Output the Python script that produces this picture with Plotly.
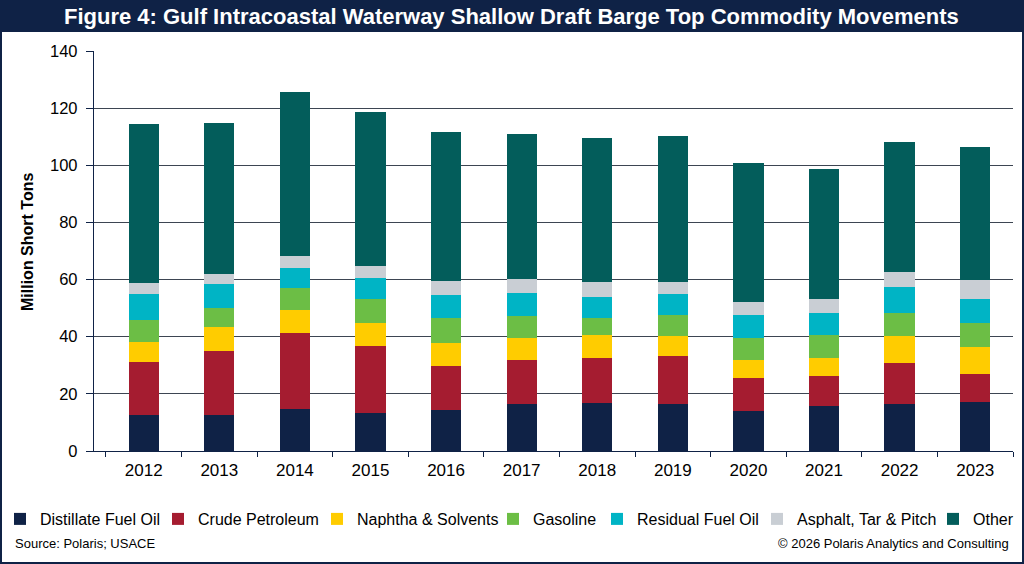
import plotly.graph_objects as go

years = ["2012", "2013", "2014", "2015", "2016", "2017", "2018", "2019", "2020", "2021", "2022", "2023"]
distillate = [12.5, 12.5, 14.7, 13.3, 14.3, 16.3, 16.8, 16.5, 14.0, 15.6, 16.6, 17.2]
crude = [18.7, 22.4, 26.5, 23.3, 15.5, 15.5, 15.8, 16.6, 11.4, 10.5, 14.3, 9.7]
naphtha = [7.0, 8.4, 8.3, 8.2, 8.0, 7.6, 8.0, 7.3, 6.5, 6.6, 9.3, 9.5]
gasoline = [7.6, 6.9, 7.6, 8.3, 8.6, 7.9, 5.9, 7.2, 7.6, 8.0, 8.2, 8.5]
residual = [9.1, 8.2, 7.1, 7.6, 8.3, 8.0, 7.3, 7.4, 8.1, 7.7, 9.1, 8.2]
asphalt = [3.9, 3.5, 4.1, 4.1, 4.7, 4.8, 5.4, 4.2, 4.6, 4.7, 5.2, 6.9]
other = [55.5, 52.8, 57.3, 53.7, 52.1, 50.8, 50.5, 51.0, 48.7, 45.5, 45.5, 46.3]

series_names = ["Distillate Fuel Oil", "Crude Petroleum", "Naphtha & Solvents", "Gasoline",
                "Residual Fuel Oil", "Asphalt, Tar & Pitch", "Other"]
series_values = [distillate, crude, naphtha, gasoline, residual, asphalt, other]
colors = ["#0f2246", "#a51c30", "#ffcc00", "#6cbe45", "#00b4c5", "#c9ced4", "#035d5b"]
y_ticks = [0, 20, 40, 60, 80, 100, 120, 140]

NAVY = "#0f2246"
FONT = "Arial, Liberation Sans, sans-serif"

W, H = 1024, 564
ML, MR, MT, MB = 94, 11, 51, 113
PW, PH = W - ML - MR, H - MT - MB


def cx(px):
    return px / W


def cy(py):
    return 1 - py / H


# legend box left positions (px) for each legend entry
legend_box_x = [0, 158, 317, 493, 597, 757, 933]

fig = go.Figure()
for i, (name, vals, col) in enumerate(zip(series_names, series_values, colors)):
    lg = "legend" if i == 0 else f"legend{i + 1}"
    fig.add_trace(go.Bar(
        x=years, y=vals, name=name, marker=dict(color=col, line=dict(width=0)),
        legend=lg,
    ))

layout_legends = {}
for i, bx in enumerate(legend_box_x):
    key = "legend" if i == 0 else f"legend{i + 1}"
    layout_legends[key] = dict(
        xref="container", yref="container",
        x=cx(bx), xanchor="left", y=cy(519), yanchor="middle",
        orientation="h", bgcolor="rgba(0,0,0,0)", borderwidth=0,
        font=dict(family=FONT, size=16, color="#000000"),
    )

fig.update_layout(
    width=W, height=H, autosize=False,
    margin=dict(l=ML, r=MR, t=MT, b=MB, pad=0, autoexpand=False),
    paper_bgcolor="white", plot_bgcolor="white",
    barmode="stack", bargap=0.6,
    font=dict(family=FONT, color="#000000"),
    showlegend=True,
    **layout_legends,
)

fig.update_xaxes(
    type="category", tickson="boundaries", ticks="outside", ticklen=5,
    tickwidth=1.3, tickcolor=NAVY, showline=True, linecolor=NAVY, linewidth=1.3,
    showgrid=False, tickfont=dict(family=FONT, size=17, color="#000000"),
    ticklabelstandoff=3,
)
fig.update_layout(
    yaxis=dict(
        range=[0, 140], tickvals=y_ticks, ticks="outside", ticklen=7, tickwidth=1.3,
        tickcolor=NAVY, showline=True, linecolor=NAVY, linewidth=1.3, showgrid=False,
        zeroline=False, tickfont=dict(family=FONT, size=16.5, color="#000000"),
        ticklabelstandoff=5,
    ),
    yaxis2=dict(
        range=[0, 140], tickvals=y_ticks[1:-1], overlaying="y", showgrid=True,
        gridcolor="#3d4552", gridwidth=1.2, showticklabels=False, ticks="",
        showline=False, zeroline=False,
    ),
)
# invisible trace to activate the gridline axis
fig.add_trace(go.Scatter(x=[years[0]], y=[0], yaxis="y2", mode="markers",
                         marker=dict(opacity=0), showlegend=False, hoverinfo="skip"))


def px_x(px):
    return (px - ML) / PW


def px_y(py):
    return (H - MB - py) / PH


# Title bar and border
fig.add_shape(type="rect", xref="paper", yref="paper", x0=px_x(0), x1=px_x(W),
              y0=px_y(32), y1=px_y(0), fillcolor=NAVY, line=dict(width=0), layer="below")
fig.add_shape(type="rect", xref="paper", yref="paper", x0=px_x(1), x1=px_x(W - 1),
              y0=px_y(H - 1), y1=px_y(1), fillcolor="rgba(0,0,0,0)",
              line=dict(color=NAVY, width=2))

fig.add_annotation(xref="paper", yref="paper", x=px_x(511), y=px_y(16.5),
                   text="<b>Figure 4: Gulf Intracoastal Waterway Shallow Draft Barge Top Commodity Movements</b>",
                   showarrow=False, xanchor="center", yanchor="middle",
                   font=dict(family=FONT, size=22, color="white"))
fig.add_annotation(xref="paper", yref="paper", x=px_x(27), y=px_y(242),
                   text="<b>Million Short Tons</b>", textangle=-90, showarrow=False,
                   xanchor="center", yanchor="middle",
                   font=dict(family=FONT, size=16, color="#000000"))
fig.add_annotation(xref="paper", yref="paper", x=px_x(13), y=px_y(543),
                   text="Source: Polaris; USACE", showarrow=False, xanchor="left",
                   yanchor="middle", font=dict(family=FONT, size=13, color="#000000"))
fig.add_annotation(xref="paper", yref="paper", x=px_x(1011), y=px_y(543),
                   text="© 2026 Polaris Analytics and Consulting", showarrow=False,
                   xanchor="right", yanchor="middle",
                   font=dict(family=FONT, size=13, color="#000000"))

fig.write_html("out.html")
